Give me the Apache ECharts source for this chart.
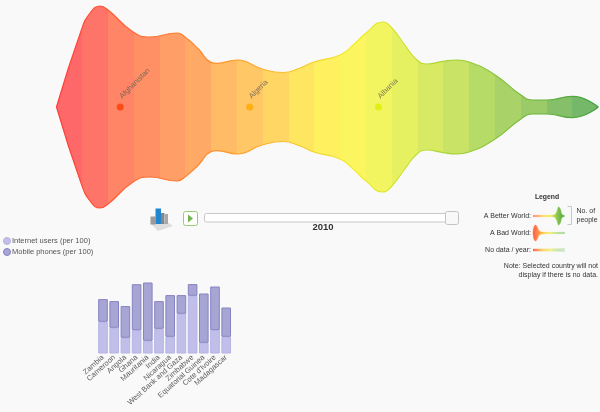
<!DOCTYPE html>
<html>
<head>
<meta charset="utf-8">
<style>html,body{margin:0;padding:0;background:#f9f9f9}#chart{width:600px;height:412px}</style>
<script src="https://cdn.jsdelivr.net/npm/echarts@6/dist/echarts.min.js"></script>
</head>
<body>
<div id="chart"></div>
<script>
// World population stream, ordered by rank, with half-width in people units
const streamRank = [0, 0.95, 1.3, 1.69, 2.0, 2.97, 3.62, 4.67, 4.98, 5.5, 5.99, 6.22, 7.0, 7.97, 8.78, 9.44, 9.98, 10.99, 11.5, 12.0, 12.65, 13.0, 13.5, 13.97, 14.36, 14.98, 15.52, 15.99, 17.0, 18.0, 18.47, 19.01, 20.0, 21.0];
const streamPeople = [0, 76, 94, 101, 97, 75, 70, 74, 70, 58, 44.6, 43.7, 47, 38, 34.5, 39, 45, 52, 62, 74, 85, 79, 62, 47, 43, 45.6, 47, 45, 32, 12, 7, 7, 10.7, 0];
const bandColors = ['#ff6868', '#ff7468', '#ff8566', '#ff9066', '#ff9e66', '#ffa966', '#ffbb66', '#ffc766', '#ffd564', '#ffe660', '#fff060', '#fbf660', '#f2f560', '#e6f162', '#d8ea64', '#c9e366', '#b6db66', '#a9d368', '#9bcb68', '#85bf6a', '#76b86a'];

const selectedCountries = ['Afghanistan', 'Algeria', 'Albania'];
const selectedRanks = [2.47, 7.49, 12.48];
const selectedColors = ['#ff3c00', '#ffa800', '#dcee00'];

// Stacked comparison of the selected countries
const barCountries = ['Zambia', 'Cameroon', 'Angola', 'Ghana', 'Mauritania', 'India', 'Nicaragua', 'West Bank and Gaza', 'Zimbabwe', 'Equatorial Guinea', "Cote d'Ivoire", 'Madagascar'];
const internetUsers = [31.7, 25.7, 15.7, 23.3, 12.7, 24.7, 16.7, 39.7, 57.7, 10.7, 23.3, 16.7];
const mobilePhones = [22.7, 26.7, 31.7, 46, 58.3, 27.7, 41.7, 18.7, 11.7, 49.3, 43.7, 29.3];

// Miniature key shapes
const keyRank = [0, 40, 62, 70, 76, 80, 86, 90, 100];
const betterPeople = [0.6, 0.6, 0.8, 2, 6, 9, 6.5, 2, 0];
const badRank = [0, 3, 8, 14, 20, 30, 45, 100];
const badPeople = [0, 6, 8, 5.5, 2, 0.9, 0.6, 0.6];
const flatRank = [0, 100];
const flatPeople = [1, 1];

const lineStops = [[0, '#ff3c3c'], [0.33, '#ff9a28'], [0.55, '#f2ee28'], [0.75, '#9ccf36'], [1, '#3f9e3f']];
const keyStops = [[0, '#ff5a50'], [0.35, '#ffd040'], [0.55, '#e8ec40'], [0.8, '#7cc050'], [1, '#4ea83a']];

function gradient(stops) {
  return new echarts.graphic.LinearGradient(0, 0, 1, 0, stops.map(s => ({ offset: s[0], color: s[1] })));
}
function bandGradient(colors) {
  const stops = [];
  colors.forEach((c, i) => {
    stops.push({ offset: i / colors.length, color: c }, { offset: (i + 1) / colors.length, color: c });
  });
  return new echarts.graphic.LinearGradient(0, 0, 1, 0, stops);
}
// A stream is drawn as two mirrored areas meeting on the zero line
function streamHalf(index, ranks, values, line, fill, width, sign) {
  return {
    type: 'line', xAxisIndex: index, yAxisIndex: index, smooth: 0.5, showSymbol: false, silent: true,
    data: ranks.map((r, i) => [r, sign * values[i]]),
    lineStyle: { color: line, width: width },
    areaStyle: { color: fill, opacity: 1 },
    z: 2
  };
}
function stream(index, ranks, values, line, fill, width) {
  return [streamHalf(index, ranks, values, line, fill, width, 1), streamHalf(index, ranks, values, line, fill, width, -1)];
}

const hiddenX = (min, max, gridIndex) => ({ type: 'value', gridIndex, min, max, show: false });
const hiddenY = (lim, gridIndex) => ({ type: 'value', gridIndex, min: -lim, max: lim, show: false });
const txt = (x, y, text, o) => ({ type: 'text', x, y, silent: true, style: Object.assign({ text, fontFamily: 'Liberation Sans', fontSize: 7, fill: '#333', align: 'left', verticalAlign: 'middle' }, o || {}) });
const dot = (cy, fill, stroke) => ({ type: 'circle', shape: { cx: 7, cy, r: 3.5 }, style: { fill, stroke, lineWidth: 1 }, silent: true });
const gridBox = (left, width, top, height) => ({ left, width, top, height, outerBoundsMode: 'none' });

const chart = echarts.init(document.getElementById('chart'), null, { renderer: 'canvas' });
chart.setOption({
  animation: false,
  backgroundColor: '#f9f9f9',
  textStyle: { fontFamily: 'Liberation Sans' },
  legend: {
    data: ['Internet users (per 100)', 'Mobile phones (per 100)'],
    orient: 'vertical', left: 7, top: 237, itemWidth: 0, itemHeight: 8, itemGap: 3, icon: 'none', padding: 0,
    textStyle: { fontSize: 7.5, color: '#555' }
  },
  grid: [
    gridBox(56.5, 541.8, 0, 214),
    gridBox(97.4, 134.4, 280, 73.5),
    gridBox(533, 32, 204, 24),
    gridBox(533, 32, 221, 24),
    gridBox(533, 32, 238, 24)
  ],
  xAxis: [
    hiddenX(0, 21, 0),
    {
      type: 'category', gridIndex: 1, data: barCountries,
      axisLine: { show: false }, axisTick: { show: false },
      axisLabel: { rotate: 42, interval: 0, fontSize: 7.5, color: '#5c5c5c', margin: 3, fontFamily: 'Liberation Sans' }
    },
    hiddenX(0, 100, 2), hiddenX(0, 100, 3), hiddenX(0, 100, 4)
  ],
  yAxis: [
    hiddenY(107, 0),
    { type: 'value', gridIndex: 1, min: 0, max: 73.5, show: false },
    hiddenY(12, 2), hiddenY(12, 3), hiddenY(12, 4)
  ],
  series: [
    ...stream(0, streamRank, streamPeople, gradient(lineStops), bandGradient(bandColors), 1.2),
    {
      type: 'scatter', xAxisIndex: 0, yAxisIndex: 0, symbolSize: 7, silent: true, z: 4,
      data: selectedCountries.map((name, i) => ({
        name, value: [selectedRanks[i], 0], itemStyle: { color: selectedColors[i] }
      })),
      label: {
        show: true, formatter: '{b}', rotate: 45, position: [4, -6], align: 'left', verticalAlign: 'middle',
        fontSize: 7.5, color: '#5a5a50', fontFamily: 'Liberation Sans'
      }
    },
    {
      name: 'Internet users (per 100)', type: 'bar', xAxisIndex: 1, yAxisIndex: 1, stack: 'access', barWidth: 9.6,
      data: internetUsers, itemStyle: { color: '#c1bfea', borderColor: '#b5b2e4', borderWidth: 1 }
    },
    {
      name: 'Mobile phones (per 100)', type: 'bar', xAxisIndex: 1, yAxisIndex: 1, stack: 'access', barWidth: 9.6,
      data: mobilePhones, itemStyle: { color: '#a7a5d3', borderColor: '#8683c4', borderWidth: 1 }
    },
    ...stream(2, keyRank, betterPeople, gradient(keyStops), gradient(keyStops), 0.5),
    ...stream(3, badRank, badPeople, gradient(keyStops), gradient(keyStops), 0.5),
    ...stream(4, flatRank, flatPeople, gradient(keyStops), gradient(keyStops), 0.5)
  ],
  graphic: [
    // Series key dots
    dot(241, '#c1bfea', '#b5b2e4'),
    dot(252, '#a7a5d3', '#8683c4'),
    // Year slider
    { type: 'rect', shape: { x: 204.5, y: 213.5, width: 243, height: 8.5, r: 2 }, style: { fill: '#fff', stroke: '#c8c8c8', lineWidth: 1 }, silent: true },
    { type: 'rect', shape: { x: 445.5, y: 211.5, width: 13, height: 13, r: 2 }, style: { fill: '#f8f8f8', stroke: '#c4c4c4', lineWidth: 1 }, silent: true },
    txt(323, 227.5, '2010', { fontWeight: 'bold', fontSize: 9.5, align: 'center' }),
    // Play button
    { type: 'rect', shape: { x: 183.5, y: 211.5, width: 14, height: 14, r: 2 }, style: { fill: '#fff', stroke: '#98cc78', lineWidth: 1 }, silent: true },
    { type: 'polygon', shape: { points: [[188, 214.5], [188, 222.5], [193, 218.5]] }, style: { fill: '#6fb550' }, silent: true },
    // Chart toggle icon
    { type: 'polygon', shape: { points: [[150, 223], [167, 222], [173, 226], [158, 231]] }, style: { fill: '#dedede' }, silent: true },
    { type: 'rect', shape: { x: 150.5, y: 216.5, width: 5, height: 8 }, style: { fill: '#9a9a9a' }, silent: true },
    { type: 'rect', shape: { x: 155.5, y: 208.5, width: 5.5, height: 15.5 }, style: { fill: '#1f86cf' }, silent: true },
    { type: 'rect', shape: { x: 161, y: 213, width: 3.5, height: 11 }, style: { fill: '#858585' }, silent: true },
    { type: 'rect', shape: { x: 165, y: 214, width: 3, height: 10 }, style: { fill: '#a8a8a8' }, silent: true },
    // Key
    txt(547, 197, 'Legend', { fontWeight: 'bold', align: 'center', fontSize: 6.8 }),
    txt(531, 216.5, 'A Better World:', { align: 'right' }),
    txt(531, 233, 'A Bad World:', { align: 'right' }),
    txt(531, 250.5, 'No data / year:', { align: 'right' }),
    { type: 'polyline', shape: { points: [[567.5, 206.5], [571.5, 206.5], [571.5, 224.5], [567.5, 224.5]] }, style: { stroke: '#c8c8c8', fill: null, lineWidth: 1 }, silent: true },
    txt(576.5, 211, 'No. of'),
    txt(576.5, 220, 'people'),
    txt(598, 266, 'Note: Selected country will not', { align: 'right' }),
    txt(598, 275.5, 'display if there is no data.', { align: 'right' })
  ]
});
</script>
</body>
</html>
